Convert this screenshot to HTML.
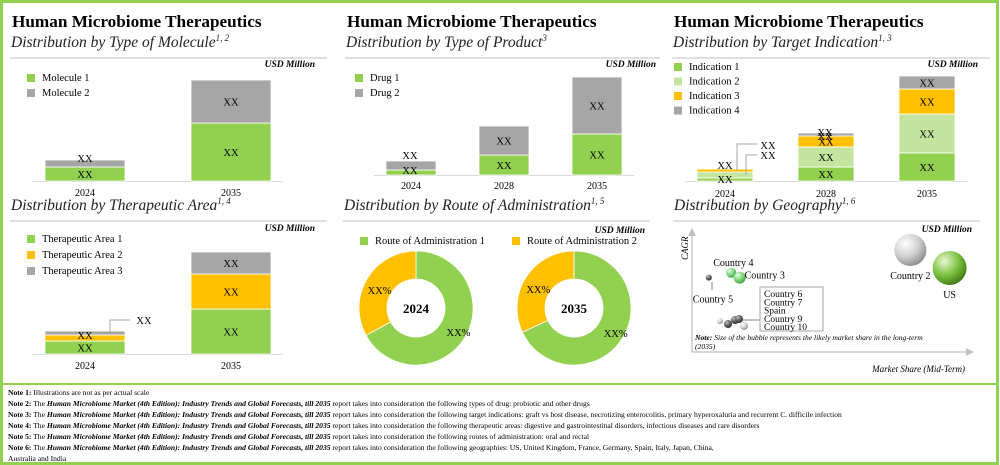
<!DOCTYPE html>
<html><head><meta charset="utf-8"><style>
body{margin:0;background:#fff}
svg{display:block;font-family:"Liberation Serif",serif}
</style></head><body>
<svg id="c" width="1000" height="465" viewBox="0 0 1000 465">
<rect x="1.5" y="1.5" width="996" height="462" fill="#fff" stroke="#92d050" stroke-width="3"/>
<line x1="2" y1="384" x2="998" y2="384" stroke="#92d050" stroke-width="2"/>
<g id="static"></g>
<g id="dyn"></g>
<g font-size="7.6">
<text x="8" y="395"><tspan font-weight="bold">Note 1:</tspan> Illustrations are not as per actual scale</text>
<text x="8" y="406"><tspan font-weight="bold">Note 2:</tspan> The <tspan font-style="italic" font-weight="bold">Human Microbiome Market (4th Edition): Industry Trends and Global Forecasts, till 2035</tspan> report takes into consideration the following types of drug: probiotic and other drugs</text>
<text x="8" y="417"><tspan font-weight="bold">Note 3:</tspan> The <tspan font-style="italic" font-weight="bold">Human Microbiome Market (4th Edition): Industry Trends and Global Forecasts, till 2035</tspan> report takes into consideration the following target indications: graft vs host disease, necrotizing enterocolitis, primary hyperoxaluria and recurrent C. difficile infection</text>
<text x="8" y="428"><tspan font-weight="bold">Note 4:</tspan> The <tspan font-style="italic" font-weight="bold">Human Microbiome Market (4th Edition): Industry Trends and Global Forecasts, till 2035</tspan> report takes into consideration the following therapeutic areas: digestive and gastrointestinal disorders, infectious diseases and rare disorders</text>
<text x="8" y="439"><tspan font-weight="bold">Note 5:</tspan> The <tspan font-style="italic" font-weight="bold">Human Microbiome Market (4th Edition): Industry Trends and Global Forecasts, till 2035</tspan> report takes into consideration the following routes of administration: oral and rectal</text>
<text x="8" y="450"><tspan font-weight="bold">Note 6:</tspan> The <tspan font-style="italic" font-weight="bold">Human Microbiome Market (4th Edition): Industry Trends and Global Forecasts, till 2035</tspan> report takes into consideration the following geographies: US, United Kingdom, France, Germany, Spain, Italy, Japan, China,</text>
<text x="8" y="461">Australia and India</text>
</g>
</svg>
<script>
// ---- data ----
const moleculeYears=["2024","2035"];
const molecule1=[14,58];
const molecule2=[7,43];
const productYears=["2024","2028","2035"];
const drug1=[5,20,41];
const drug2=[9,29,57];
const indicationYears=["2024","2028","2035"];
const indication1=[3,14,28];
const indication2=[6,20,39];
const indication3=[3,11,25];
const indication4=[0.5,3,13];
const areaYears=["2024","2035"];
const area1=[13,45];
const area2=[6,35];
const area3=[4,22];
const routeYears=["2024","2035"];
const route1Share=[67,68];
const geoNames=["Country 2","US","Country 4","Country 3","Country 5"];
const geoShare=[78,92,14,17,6];
const geoCagr=[85,70,66,62,62];
const geoSize=[16,17,5,6,3];

const NS="http://www.w3.org/2000/svg";
const S=document.getElementById('static'),D=document.getElementById('dyn');
function el(t,a,p,txt){const e=document.createElementNS(NS,t);for(const k in a)e.setAttribute(k,a[k]);if(txt!=null)e.textContent=txt;(p||D).appendChild(e);return e;}
const G="#92d050",LG="#c4e59f",Y="#ffc000",GR="#a6a6a6";

function header(x,y,title,sub,sup,rx,name){
  if(title){const t=el('text',{x:x,y:y,'font-size':17.2,'font-weight':'bold'},S,title);
  }
  const s=el('text',{x:x-1,y:y+20,'font-size':15.5,'font-style':'italic',fill:'#222'},S);
  
  el('tspan',{},s,sub);el('tspan',{'font-size':9,dy:-6},s,sup);
  const l=el('line',{x1:x-2,y1:y+31,x2:rx,y2:y+31,stroke:'#bfbfbf'},S);
  
}
function usd(x,y,name){const t=el('text',{x:x,y:y,'font-size':9.5,'font-weight':'bold','font-style':'italic','text-anchor':'end'},S,'USD Million');
  }
function legend(x,y,items,cols,step,name){items.forEach((it,i)=>{
  const g=el('g',{},S);
  el('rect',{x:x,y:y+i*step-7,width:8,height:8,fill:cols[i]},g);
  el('text',{x:x+15,y:y+i*step,'font-size':10.5},g,it);});}

function stacked(name,cats,series,cols,x0,barW,gap,base,scale,labelY,showLabels){
  const gx=el('line',{x1:x0-12,y1:base+0.5,x2:x0+cats.length*(barW+gap)-gap+12,y2:base+0.5,stroke:'#d9d9d9'});
  
  cats.forEach((c,i)=>{
    const bx=x0+i*(barW+gap);let y=base;
    series.forEach((s,j)=>{
      const h=s[i]*scale;y-=h;
      const r=el('rect',{x:bx,y:y,width:barW,height:h,fill:cols[j],stroke:'#fff','stroke-width':0.8});
      
      if(showLabels&&h>=10){const t=el('text',{x:bx+barW/2,y:y+h/2+4,'font-size':10.5,'text-anchor':'middle'},D,'XX');
        }
    });
    const t=el('text',{x:bx+barW/2,y:labelY,'font-size':10,'text-anchor':'middle'},D,c);
    
  });
}
function xx(x,y,name){const t=el('text',{x:x,y:y,'font-size':10.5,'text-anchor':'middle'},D,'XX');}

// Panel 1
header(12,27,'Human Microbiome Therapeutics','Distribution by Type of Molecule','1, 2',327,'molecule');
usd(315,67,'molecule');
legend(27,81,['Molecule 1','Molecule 2'],[G,GR],15,'molecule');
stacked('molecule',moleculeYears,[molecule1,molecule2],[G,GR],45,80,66,181,1.0,196,true);
xx(85,162,'molecule-2024-s2-label');

// Panel 2
header(347,27,'Human Microbiome Therapeutics','Distribution by Type of Product','3',660,'product');
usd(656,67,'product');
legend(355,81,['Drug 1','Drug 2'],[G,GR],15,'product');
stacked('product',productYears,[drug1,drug2],[G,GR],386,50,43,175,1.0,189,true);
xx(410,159,'product-2024-s2-label');xx(410,174,'product-2024-s1-label');

// Panel 3
header(674,27,'Human Microbiome Therapeutics','Distribution by Target Indication','1, 3',990,'indication');
usd(978,67,'indication');
legend(674,70,['Indication 1','Indication 2','Indication 3','Indication 4'],[G,LG,Y,GR],14.5,'indication');
stacked('indication',indicationYears,[indication1,indication2,indication3,indication4],[G,LG,Y,GR],697,56,45,181,1.0,197,true);
xx(725,169,'ind-2024-label-a');xx(725,183,'ind-2024-label-b');xx(825,140,'ind-2028-s3-label');xx(825,136,'ind-2028-s4-label');
el('polyline',{points:'737,170 737,144 757,144',fill:'none',stroke:'#a6a6a6'});
el('polyline',{points:'746,175 746,155 757,155',fill:'none',stroke:'#a6a6a6'});
xx(768,149,'ind-callout-1');xx(768,159,'ind-callout-2');

// Panel 4
header(12,190,null,'Distribution by Therapeutic Area','1, 4',327,'area');
usd(315,231,'area');
legend(27,242,['Therapeutic Area  1','Therapeutic Area  2','Therapeutic Area  3'],[G,Y,GR],16,'area');
stacked('area',areaYears,[area1,area2,area3],[G,Y,GR],45,80,66,354,1.0,369,true);
xx(85,339,'area-2024-s2-label');
el('polyline',{points:'110,332 110,320 130,320',fill:'none',stroke:'#a6a6a6'});
xx(144,324,'area-callout');

// Panel 5 donuts
header(345,190,null,'Distribution by Route of Administration','1, 5',650,'route');
usd(645,233,'route');
legend(360,244,['Route of Administration 1'],[G],0,'route');
legend(512,244,['Route of Administration 2'],[Y],0,'route');
const centers=[416,574];
routeYears.forEach((yr,i)=>{
  const cx=centers[i],cy=308,R=57,r=29;
  const a=route1Share[i]/100*2*Math.PI;
  function arc(a0,a1,col,nm){
    const p=(ang,rad)=>[cx+rad*Math.sin(ang),cy-rad*Math.cos(ang)];
    const l=(a1-a0)>Math.PI?1:0;const [x1,y1]=p(a0,R),[x2,y2]=p(a1,R),[x3,y3]=p(a1,r),[x4,y4]=p(a0,r);
    const e=el('path',{d:`M${x1},${y1}A${R},${R} 0 ${l} 1 ${x2},${y2}L${x3},${y3}A${r},${r} 0 ${l} 0 ${x4},${y4}Z`,fill:col,stroke:'#fff','stroke-width':0.8});
    }
  arc(0,a,G,'donut-'+yr+'-route1');arc(a,2*Math.PI,Y,'donut-'+yr+'-route2');
  const c=el('text',{x:cx,y:cy+5,'font-size':13,'font-weight':'bold','text-anchor':'middle'},D,yr);
  
  const ma=a/2,mb=(a+2*Math.PI)/2,mr=(R+r)/2+4;
  const t1=el('text',{x:cx+mr*Math.sin(ma)+2,y:cy-mr*Math.cos(ma)+4,'font-size':10.5,'text-anchor':'middle'},D,'XX%');
  
  const t2=el('text',{x:cx+mr*Math.sin(mb)+4,y:cy-mr*Math.cos(mb)+10,'font-size':10.5,'text-anchor':'middle'},D,'XX%');
  
});

// Panel 6 geography
header(675,190,null,'Distribution by Geography','1, 6',980,'geo');
usd(972,232,'geo');
const defs=el('defs',{},S);
[['gW','#ffffff','#d0d0d0','#8a8a8a'],['gG','#e8f7d0','#7cc242','#3f7a15'],['gL','#e8fbe8','#7bd97b','#3a9a3a'],['gD','#c0c0c0','#606060','#303030']].forEach(g=>{
  const rg=el('radialGradient',{id:g[0],cx:'35%',cy:'30%',r:'75%'},defs);
  el('stop',{offset:'0%','stop-color':g[1]},rg);el('stop',{offset:'55%','stop-color':g[2]},rg);el('stop',{offset:'100%','stop-color':g[3]},rg);});
const ax=el('path',{d:'M692,352 L692,234 M692,352 L970,352',stroke:'#bfbfbf','stroke-width':1.2,fill:'none'});

el('path',{d:'M688,236 L692,228 L696,236Z M966,348 L974,352 L966,356Z',fill:'#bfbfbf'});
const yt=el('text',{x:688,y:260,'font-size':9,'font-style':'italic',transform:'rotate(-90 688 260)'},D,'CAGR');

const xt=el('text',{x:965,y:372,'font-size':9,'font-style':'italic','text-anchor':'end'},D,'Market Share (Mid-Term)');

const gx=s=>692+s*2.8, gy=c=>352-c*1.2;
const fills=['url(#gW)','url(#gG)','url(#gL)','url(#gL)','url(#gD)'];
const lab=[[0,29,'middle'],[0,30,'middle'],[-18,-7,'start'],[5,1,'start'],[-16,25,'start']];
geoNames.forEach((n,i)=>{
  const cx=gx(geoShare[i]),cy=gy(geoCagr[i]);
  const b=el('circle',{cx:cx,cy:cy,r:geoSize[i],fill:fills[i]});
  
  const t=el('text',{x:cx+lab[i][0],y:cy+lab[i][1],'font-size':10,'text-anchor':lab[i][2]},D,n);
  
});
el('line',{x1:712,y1:282,x2:712,y2:290,stroke:'#808080'});
[[720,321,3,'url(#gW)'],[728,324,4,'url(#gD)'],[735,320,4,'url(#gD)'],[739,319,4,'url(#gD)'],[744,326,4,'url(#gW)']].forEach((c,i)=>{
  const b=el('circle',{cx:c[0],cy:c[1],r:c[2],fill:c[3]});});
el('line',{x1:743,y1:320,x2:760,y2:320,stroke:'#808080'});
const bx=el('rect',{x:760,y:287,width:63,height:44,fill:'#fff',stroke:'#a6a6a6'});

['Country 6','Country 7','Spain','Country 9','Country 10'].forEach((n,i)=>{
  const t=el('text',{x:764,y:297+i*8.3,'font-size':9.5},D,n);});
const nt=el('text',{x:695,y:340,'font-size':7.6,'font-style':'italic'},D);

el('tspan',{'font-weight':'bold'},nt,'Note: ');el('tspan',{},nt,'Size of the bubble represents the likely market share in the long-term');
const nt2=el('text',{x:695,y:349,'font-size':7.6,'font-style':'italic'},D,'(2035)');

</script>
</body></html>
